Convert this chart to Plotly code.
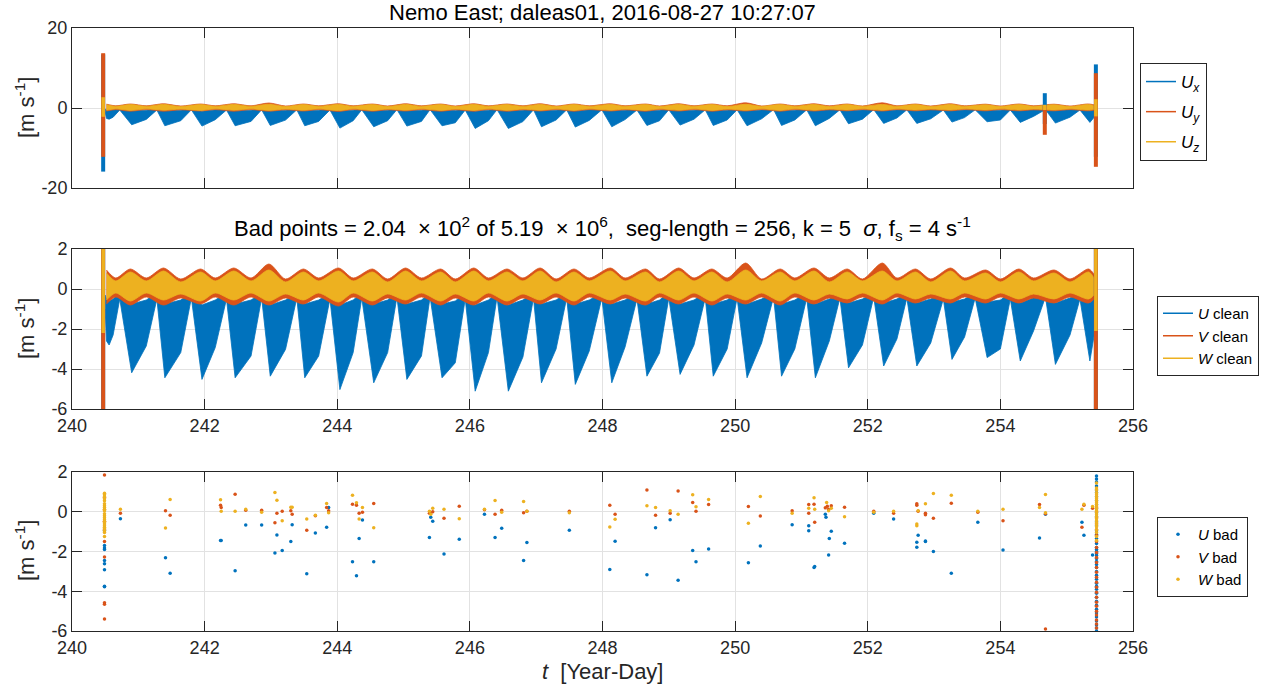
import plotly.graph_objects as go

FIG_W, FIG_H = 1266, 693
BLUE, RED, YEL = "#0072BD", "#D95319", "#EDB120"
FONT = "Liberation Sans, Arial, Helvetica, sans-serif"
AX_COL = "#262626"
GRID_COL = "#E2E2E2"

TICK_DAYS = [240, 242, 244, 246, 248, 250, 252, 254, 256]
TICKS_RAW = [-20, 0, 20]
TICKS_CLEAN = [-6, -4, -2, 0, 2]

# ---- U envelope: tidal crest / trough / shelf vertices (year-day, m/s) ----
U_DAY = [240.50, 240.52, 240.56, 240.62,
         240.72, 240.90, 241.12, 241.28, 241.40, 241.64, 241.80, 241.96, 242.16,
         242.33, 242.46, 242.70, 242.86, 242.99, 243.22, 243.39, 243.51, 243.72,
         243.89, 244.04, 244.24, 244.37, 244.55, 244.76, 244.90, 245.05, 245.27,
         245.40, 245.58, 245.78, 245.93, 246.08, 246.28, 246.41, 246.58, 246.80,
         246.96, 247.08, 247.30, 247.46, 247.59, 247.80, 247.99, 248.14, 248.34,
         248.52, 248.67, 248.86, 249.00, 249.17, 249.38, 249.55, 249.67, 249.88,
         250.03, 250.18, 250.40, 250.58, 250.70, 250.90, 251.08, 251.21, 251.42,
         251.58, 251.71, 251.92, 252.09, 252.24, 252.44, 252.59, 252.74, 252.95,
         253.14, 253.27, 253.46, 253.62, 253.80, 254.00, 254.15, 254.30, 254.50,
         254.68, 254.83, 255.05, 255.20, 255.35, 255.43]
U_LO = [-1.00, -2.60, -2.80, -2.30,
        -0.50, -4.19, -2.85, -0.50, -4.44, -3.18, -0.45, -4.52, -2.93,
        -0.50, -4.44, -3.35, -0.45, -4.36, -3.02, -0.45, -4.44, -3.35,
        -0.50, -5.03, -3.18, -0.45, -4.69, -3.18, -0.40, -4.52, -3.35,
        -0.40, -4.44, -3.69, -0.50, -5.11, -3.18, -0.40, -5.11, -3.40,
        -0.45, -4.69, -3.00, -0.45, -4.77, -3.10, -0.45, -4.69, -2.90,
        -0.50, -4.36, -3.20, -0.45, -4.27, -2.80, -0.45, -4.36, -3.00,
        -0.45, -4.44, -2.70, -0.40, -4.36, -3.00, -0.45, -4.44, -2.60,
        -0.45, -3.94, -2.80, -0.40, -3.85, -2.50, -0.45, -3.85, -2.70,
        -0.50, -3.52, -2.40, -0.45, -3.43, -3.00, -0.50, -3.60, -2.10,
        -0.40, -3.77, -2.30, -0.50, -3.60, -2.00]
U_HI = [-0.30, -0.50, -0.60, -0.50,
        -0.20, -0.75, -0.55, -0.20, -0.75, -0.55, -0.20, -0.80, -0.55,
        -0.20, -0.75, -0.55, -0.20, -0.80, -0.55, -0.20, -0.75, -0.55,
        -0.20, -0.80, -0.55, -0.20, -0.75, -0.55, -0.20, -0.75, -0.55,
        -0.20, -0.75, -0.60, -0.20, -0.80, -0.55, -0.20, -0.80, -0.55,
        -0.20, -0.75, -0.55, -0.20, -0.75, -0.55, -0.20, -0.75, -0.55,
        -0.20, -0.75, -0.55, -0.20, -0.75, -0.55, -0.20, -0.75, -0.55,
        -0.20, -0.75, -0.50, -0.20, -0.75, -0.55, -0.20, -0.75, -0.50,
        -0.20, -0.70, -0.50, -0.20, -0.70, -0.50, -0.20, -0.70, -0.50,
        -0.20, -0.65, -0.50, -0.20, -0.65, -0.55, -0.20, -0.70, -0.45,
        -0.20, -0.70, -0.45, -0.20, -0.70, -0.40]

# ---- V / W envelopes: alternating bulge / neck vertices ----
VW_DAY = [240.52, 240.66, 240.88, 241.12, 241.38, 241.64, 241.94, 242.16, 242.44, 242.70,
          242.97, 243.22, 243.49, 243.72, 244.02, 244.24, 244.53, 244.76, 245.03, 245.27,
          245.56, 245.78, 246.06, 246.28, 246.56, 246.80, 247.06, 247.30, 247.57, 247.80,
          248.12, 248.34, 248.65, 248.86, 249.15, 249.38, 249.65, 249.88, 250.16, 250.40,
          250.68, 250.90, 251.19, 251.42, 251.69, 251.92, 252.22, 252.44, 252.72, 252.95,
          253.25, 253.46, 253.78, 254.00, 254.28, 254.50, 254.81, 255.05, 255.33, 255.43]
V_HI = [0.95, 0.55, 1.00, 0.55, 1.05, 0.50, 1.00, 0.55, 1.05, 0.55,
        1.25, 0.50, 1.00, 0.55, 1.05, 0.55, 1.00, 0.50, 1.05, 0.55,
        1.00, 0.50, 1.05, 0.55, 1.00, 0.55, 1.05, 0.50, 1.00, 0.55,
        1.05, 0.55, 1.00, 0.50, 1.05, 0.55, 1.00, 0.55, 1.30, 0.50,
        1.00, 0.55, 1.05, 0.55, 1.00, 0.50, 1.30, 0.55, 1.00, 0.50,
        1.05, 0.55, 0.95, 0.50, 1.00, 0.55, 0.95, 0.50, 1.00, 0.60]
V_LO = [-0.75, -0.40, -0.80, -0.40, -0.80, -0.45, -0.75, -0.40, -0.80, -0.40,
        -0.80, -0.45, -0.75, -0.40, -0.85, -0.40, -0.80, -0.45, -0.75, -0.40,
        -0.80, -0.45, -0.80, -0.40, -0.80, -0.45, -0.75, -0.40, -0.80, -0.40,
        -0.75, -0.45, -0.80, -0.40, -0.75, -0.40, -0.80, -0.45, -0.75, -0.40,
        -0.80, -0.40, -0.75, -0.45, -0.70, -0.40, -0.75, -0.40, -0.70, -0.45,
        -0.70, -0.40, -0.70, -0.40, -0.70, -0.45, -0.70, -0.40, -0.70, -0.40]
W_HI = [0.80, 0.40, 0.85, 0.40, 0.90, 0.35, 0.85, 0.40, 0.90, 0.40,
        0.95, 0.35, 0.85, 0.40, 0.90, 0.40, 0.85, 0.35, 0.90, 0.40,
        0.85, 0.35, 0.90, 0.40, 0.85, 0.40, 0.90, 0.35, 0.85, 0.40,
        0.90, 0.40, 0.85, 0.35, 0.90, 0.40, 0.85, 0.35, 0.95, 0.40,
        0.85, 0.40, 0.90, 0.35, 0.85, 0.40, 0.90, 0.40, 0.85, 0.35,
        0.90, 0.40, 0.80, 0.35, 0.85, 0.40, 0.80, 0.35, 0.85, 0.40]
W_LO = [-0.55, -0.20, -0.60, -0.20, -0.55, -0.25, -0.60, -0.20, -0.55, -0.20,
        -0.60, -0.25, -0.55, -0.20, -0.65, -0.20, -0.60, -0.25, -0.55, -0.20,
        -0.60, -0.25, -0.60, -0.20, -0.60, -0.25, -0.55, -0.20, -0.60, -0.20,
        -0.55, -0.25, -0.60, -0.20, -0.55, -0.20, -0.60, -0.25, -0.55, -0.20,
        -0.60, -0.20, -0.55, -0.25, -0.50, -0.20, -0.55, -0.20, -0.50, -0.25,
        -0.50, -0.20, -0.50, -0.20, -0.50, -0.25, -0.50, -0.20, -0.50, -0.20]

# ---- spikes in the raw record (start, mid, end) ----
SPIKE_DAY = [240.47, 254.67, 255.44]
SPIKE_U_LO = [-15.9, -4.0, -12.2]
SPIKE_U_HI = [13.4, 3.7, 10.9]
SPIKE_V_LO = [-12.2, -6.7, -14.7]
SPIKE_V_HI = [13.7, 0.5, 8.7]
SPIKE_W_LO = [-2.2, -0.5, -2.1]
SPIKE_W_HI = [2.7, 0.8, 2.2]
CLEAN_SPIKES = [0, 2]   # the start and end spikes survive cleaning

# ---- flagged (bad) samples ----
BAD_U_DAY = [240.49] * 9 + [
    240.73, 241.41, 241.48, 242.24, 242.25, 242.46, 242.62, 242.86, 243.06, 243.09,
    243.17, 243.30, 243.32, 243.54, 243.67, 243.84, 243.87, 244.23, 244.29, 244.33,
    244.38, 244.55, 245.39, 245.41, 245.44, 245.61, 245.84, 246.22, 246.38, 246.48,
    246.81, 246.86, 247.50, 248.11, 248.19, 248.67, 248.80, 249.02, 249.14, 249.36,
    249.41, 249.60, 250.20, 250.38, 250.86, 251.11, 251.11, 251.19, 251.20, 251.36,
    251.37, 251.42, 251.41, 251.45, 251.65, 252.09, 252.39, 252.74, 252.74, 252.76,
    252.87, 252.87, 252.99, 253.26, 253.66, 254.04, 254.59, 254.68, 255.23, 255.26,
    255.39] + [255.45] * 44
BAD_U = [-0.95, -1.70, -1.82, -1.90, -2.45, -2.62, -2.92, -3.75, -3.77,
         -0.35, -2.32, -3.10, -1.45, -1.45, -2.97, -0.67, -0.67, -2.08, -1.17,
         -1.95, -1.50, -0.65, -3.12, -1.07, -0.78, 0.22, -2.52, -3.22, -1.35,
         -0.42, -2.52, -1.30, -0.28, -0.48, -2.12, -1.38, -0.12, -1.30, -0.83,
         -2.45, -1.55, -0.93, -2.90, -1.48, -3.17, -0.80, -0.40, -3.45, -1.95,
         -2.52, -1.88, -2.57, -1.72, -0.65, -0.70, -0.95, -2.80, -2.75, -0.12,
         -0.28, -1.35, -2.17, -0.98, -1.58, -0.07, -0.37, -1.53, -1.78, -1.18,
         -1.50, -1.47, -2.00, -3.10, -0.53, -1.92, -1.32, -0.13, -0.53, -1.18,
         -2.18,
         1.80, 1.65, 1.50, 1.30, 1.10, 0.95, 0.75, 0.55, 0.35, 0.15, -0.05,
         -0.25, -0.50, -0.70, -0.95, -1.15, -1.35, -1.60, -1.80, -1.90, -2.00,
         -2.10, -2.20, -2.35, -2.50, -2.65, -2.80, -3.00, -3.20, -3.40, -3.60,
         -3.75, -3.90, -4.10, -4.30, -4.50, -4.70, -4.90, -5.10, -5.30, -5.50,
         -5.70, -5.85, -6.00]

BAD_V_DAY = [240.49] * 10 + [
    240.73, 241.41, 241.48, 242.24, 242.25, 242.46, 242.62, 242.86, 243.06, 243.09,
    243.17, 243.30, 243.32, 243.54, 243.67, 243.84, 243.87, 244.23, 244.29, 244.33,
    244.38, 244.55, 245.39, 245.41, 245.44, 245.61, 245.84, 246.22, 246.38, 246.48,
    246.81, 246.86, 247.50, 248.11, 248.19, 248.67, 248.80, 249.02, 249.14, 249.36,
    249.41, 249.60, 250.20, 250.38, 250.86, 251.11, 251.11, 251.19, 251.20, 251.36,
    251.39, 251.41, 251.45, 251.65, 252.09, 252.39, 252.74, 252.74, 252.76, 252.87,
    252.87, 252.99, 253.26, 253.66, 254.04, 254.59, 254.68, 254.68, 255.23, 255.26,
    255.39] + [255.45] * 25
BAD_V = [1.85, 0.72, 0.10, -0.48, -0.90, -1.50, -2.28, -4.58, -4.65, -5.40,
         -0.07, 0.05, -0.17, 0.33, 0.22, 0.88, 0.07, 0.08, -0.55, -0.08,
         0.02, 0.05, -0.12, -0.93, -0.20, 0.22, 0.05, 0.38, 0.33, -0.08,
         -0.03, 0.42, -0.08, -0.05, 0.00, -0.33, 0.28, 0.10, -0.12, 0.08,
         -0.05, 0.03, 0.02, 0.33, -0.12, 1.10, -0.17, -0.07, 1.05, 0.47,
         0.03, 0.37, 0.27, -0.22, 0.05, 0.37, -0.07, 0.38, -0.53, 0.20,
         0.28, 0.13, 0.30, 0.23, 0.03, -0.08, 0.40, 0.33, 0.02, -0.08,
         -0.15, -0.33, 0.43, -0.03, -0.45, 0.37, -0.10, -5.90, -0.78, 0.33,
         0.17,
         0.20, 0.00, -0.30, -0.60, -0.90, -1.20, -1.50, -1.80, -2.05, -2.30,
         -2.55, -2.80, -3.05, -3.30, -3.55, -3.80, -4.05, -4.30, -4.55, -4.75,
         -5.00, -5.20, -5.45, -5.65, -5.85]

BAD_W_DAY = [240.49] * 23 + [
    240.73, 241.41, 241.48, 242.24, 242.25, 242.46, 242.62, 242.86, 243.06, 243.09,
    243.17, 243.30, 243.32, 243.54, 243.67, 243.84, 243.87, 244.23, 244.29, 244.33,
    244.38, 244.55, 245.39, 245.41, 245.44, 245.61, 245.84, 246.22, 246.38, 246.48,
    246.81, 246.86, 247.50, 248.11, 248.19, 248.67, 248.80, 249.02, 249.14, 249.36,
    249.41, 249.60, 250.20, 250.38, 250.86, 251.11, 251.19, 251.20, 251.38, 251.41,
    251.45, 251.65, 252.09, 252.39, 252.74, 252.74, 252.76, 252.87, 252.99, 253.26,
    253.66, 254.04, 254.59, 254.68, 254.68, 255.23, 255.26, 255.39] + [255.45] * 25
BAD_W = [0.93, 0.85, 0.75, 0.65, 0.55, 0.40, 0.30, 0.22, 0.12, 0.05, -0.10,
         -0.20, -0.30, -0.40, -0.50, -0.55, -0.62, -0.70, -0.78, -0.85, -0.95,
         -1.05, -1.25,
         0.13, -0.82, 0.62, 0.60, 0.02, 0.02, 0.13, -0.02, 0.97, 0.58,
         -0.45, 0.23, 0.23, -0.37, -0.18, 0.42, -0.05, 0.83, 0.45, -0.37,
         0.22, -0.80, 0.02, -0.12, 0.17, 0.13, -0.35, 0.13, 0.57, -0.02,
         0.52, 0.02, -0.05, -0.77, -0.38, 0.30, 0.22, 0.05, -0.12, 0.85,
         0.25, 0.62, -0.58, 0.77, -0.07, 0.17, 0.70, 0.12, 0.47, 0.05,
         0.17, -0.25, -0.02, 0.02, -0.62, -0.70, 0.05, 0.40, 0.92, 0.83,
         0.02, 0.12, 0.22, 0.87, -0.05, 0.13, 0.38, 0.27,
         1.45, 1.20, 1.10, 0.95, 0.85, 0.75, 0.65, 0.55, 0.45, 0.35, 0.25,
         0.15, 0.05, -0.05, -0.15, -0.25, -0.35, -0.45, -0.55, -0.65, -0.75,
         -0.90, -1.05, -1.25, -1.45]


def px_x(p):
    return p / FIG_W


def px_y(p):
    return 1 - p / FIG_H


def band(days, lo, hi):
    return list(days) + list(days)[::-1], list(lo) + list(hi)[::-1]


def spikes(idx, lo, hi):
    xs, ys = [], []
    for i in idx:
        xs += [SPIKE_DAY[i], SPIKE_DAY[i], None]
        ys += [lo[i], hi[i], None]
    return xs, ys


fig = go.Figure()

panels = [("x", "y", [0, 1, 2]), ("x2", "y2", CLEAN_SPIKES)]
for xa, ya, sp in panels:
    for (days, lo, hi, col, shape) in [(U_DAY, U_LO, U_HI, BLUE, "linear"),
                                       (VW_DAY, V_LO, V_HI, RED, "spline"),
                                       (VW_DAY, W_LO, W_HI, YEL, "spline")]:
        bx, by = band(days, lo, hi)
        fig.add_trace(go.Scatter(x=bx, y=by, xaxis=xa, yaxis=ya, mode="lines",
                                 fill="toself", fillcolor=col,
                                 line=dict(color=col, width=0.8, shape=shape, smoothing=0.8),
                                 hoverinfo="skip", showlegend=False))
    for lo, hi, col, w in [(SPIKE_U_LO, SPIKE_U_HI, BLUE, 4), (SPIKE_V_LO, SPIKE_V_HI, RED, 4),
                           (SPIKE_W_LO, SPIKE_W_HI, YEL, 3.5)]:
        sx, sy = spikes(sp, lo, hi)
        fig.add_trace(go.Scatter(x=sx, y=sy, xaxis=xa, yaxis=ya, mode="lines",
                                 line=dict(color=col, width=w),
                                 hoverinfo="skip", showlegend=False))

# legend entries for the line panels
for k, (name, col) in enumerate([("<i>U</i><sub><i>x</i></sub>", BLUE),
                                 ("<i>U</i><sub><i>y</i></sub>", RED),
                                 ("<i>U</i><sub><i>z</i></sub>", YEL)]):
    fig.add_trace(go.Scatter(x=[None], y=[None], xaxis="x", yaxis="y", mode="lines",
                             line=dict(color=col, width=1.5), name=name, legend="legend",
                             legendgroup="raw%d" % k))
for name, col in [("<i>U</i> clean", BLUE), ("<i>V</i> clean", RED), ("<i>W</i> clean", YEL)]:
    fig.add_trace(go.Scatter(x=[None], y=[None], xaxis="x2", yaxis="y2", mode="lines",
                             line=dict(color=col, width=1.5), name=name, legend="legend2"))

for name, dx, dy, col in [("<i>U</i> bad", BAD_U_DAY, BAD_U, BLUE),
                          ("<i>V</i> bad", BAD_V_DAY, BAD_V, RED),
                          ("<i>W</i> bad", BAD_W_DAY, BAD_W, YEL)]:
    fig.add_trace(go.Scatter(x=dx, y=dy, xaxis="x3", yaxis="y3", mode="markers",
                             marker=dict(color=col, size=3.5, line=dict(width=0)),
                             name=name, legend="legend3", hoverinfo="skip"))

XDOM = [px_x(72), px_x(1133)]
axis_common = dict(showline=True, linecolor=AX_COL, linewidth=1, mirror="ticks",
                   ticks="inside", ticklen=10, tickcolor=AX_COL, tickwidth=1,
                   showgrid=True, gridcolor=GRID_COL, gridwidth=1, zeroline=False,
                   automargin=False,
                   tickfont=dict(family=FONT, size=18, color=AX_COL))

layout_axes = {}
for i, (ax, ay, dom, rng, yt, lab) in enumerate([
        ("xaxis", "yaxis", [px_y(188), px_y(28)], [-20, 20], TICKS_RAW, False),
        ("xaxis2", "yaxis2", [px_y(409), px_y(249)], [-6, 2], TICKS_CLEAN, True),
        ("xaxis3", "yaxis3", [px_y(631), px_y(472)], [-6, 2], TICKS_CLEAN, True)]):
    anchor_y = "y" if i == 0 else "y%d" % (i + 1)
    anchor_x = "x" if i == 0 else "x%d" % (i + 1)
    layout_axes[ax] = dict(axis_common, domain=XDOM, range=[240, 256], anchor=anchor_y,
                           tickvals=TICK_DAYS, ticktext=[str(d) for d in TICK_DAYS],
                           showticklabels=lab)
    layout_axes[ay] = dict(axis_common, domain=dom, range=rng, anchor=anchor_x,
                           tickvals=yt, ticktext=[str(v) for v in yt])

legend_common = dict(bgcolor="white", bordercolor=AX_COL, borderwidth=1,
                     font=dict(family=FONT, size=15, color="#000"),
                     xanchor="left", yanchor="top", itemwidth=30)

ann = []
title_font = dict(family=FONT, size=22, color="#000")
ann.append(dict(text="Nemo East; daleas01, 2016-08-27 10:27:07", x=(XDOM[0] + XDOM[1]) / 2,
                y=px_y(27), xref="paper", yref="paper", xanchor="center", yanchor="bottom",
                showarrow=False, font=title_font))
ann.append(dict(text="Bad points = 2.04 \u00a0\u00d7\u00a010<sup>2</sup> of 5.19 \u00a0\u00d7\u00a010<sup>6</sup>,"
                     " \u00a0seg-length = 256, k = 5 \u00a0<i>\u03c3</i>, f<sub>s</sub> = 4 s<sup>-1</sup>",
                x=(XDOM[0] + XDOM[1]) / 2, y=px_y(246), xref="paper", yref="paper",
                xanchor="center", yanchor="bottom", showarrow=False, font=title_font))
for yc in [108, 329, 551]:
    ann.append(dict(text="[m s<sup>-1</sup>]", x=px_x(25), y=px_y(yc), xref="paper",
                    yref="paper", xanchor="center", yanchor="middle", textangle=-90,
                    showarrow=False, font=dict(family=FONT, size=22, color=AX_COL)))
ann.append(dict(text="<i>t</i> \u00a0[Year-Day]", x=(XDOM[0] + XDOM[1]) / 2, y=px_y(671),
                xref="paper", yref="paper", xanchor="center", yanchor="middle",
                showarrow=False, font=dict(family=FONT, size=22, color=AX_COL)))

fig.update_layout(
    width=FIG_W, height=FIG_H,
    margin=dict(l=0, r=0, t=0, b=0, autoexpand=False),
    paper_bgcolor="white", plot_bgcolor="white",
    font=dict(family=FONT),
    legend=dict(legend_common, x=px_x(1140), y=px_y(63), tracegroupgap=5,
                font=dict(family=FONT, size=17, color="#000")),
    legend2=dict(legend_common, x=px_x(1157), y=px_y(296)),
    legend3=dict(legend_common, x=px_x(1157), y=px_y(517)),
    annotations=ann,
    **layout_axes,
)

fig.write_html("out.html")
